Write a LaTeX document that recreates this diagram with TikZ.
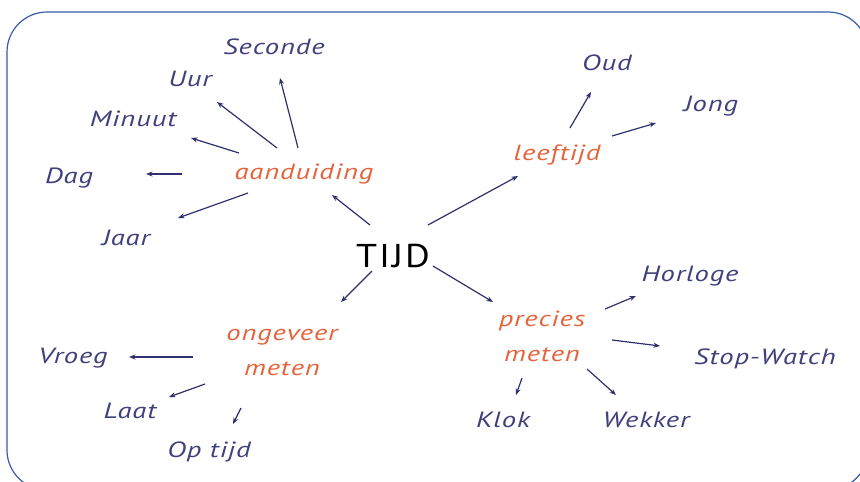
\documentclass[tikz,border=0pt]{standalone}
\usepackage{fontspec}
\usetikzlibrary{arrows.meta}
\newfontfamily\handfont[FakeStretch=1.3,LetterSpace=4]{PT Sans Italic}
\newfontfamily\titlefont[FakeStretch=1.15,LetterSpace=6]{PT Sans}
\definecolor{wordblue}{HTML}{40407C}
\definecolor{wordorange}{HTML}{E4643C}
\definecolor{arrowblue}{HTML}{30306E}
\definecolor{frameblue}{HTML}{3A5AAA}
\begin{document}
\begin{tikzpicture}[x=1pt,y=-1pt,
  leaf/.style={font=\handfont\fontsize{22}{24}\selectfont, text=wordblue, inner sep=0pt},
  topic/.style={font=\handfont\fontsize{22}{35}\selectfont, text=wordorange, inner sep=0pt, align=center},
  root/.style={font=\titlefont\fontsize{33}{34}\selectfont, text=black, inner sep=0pt},
  link/.style={draw=arrowblue, line width=1.2pt, -{Stealth[length=6.5pt,width=5pt]}}]
\useasboundingbox (0,0) rectangle (860,482);
\fill[white] (0,0) rectangle (860,482);
\draw[frameblue, line width=1.2pt, rounded corners=40pt] (7,12) rectangle (868,490);

% nodes
\node[root] (tijd) at (393,256) {TIJD};
\node[topic] (aand) at (304,174) {aanduiding};
\node[topic] (leef) at (557,155) {leeftijd};
\node[topic] (ong) at (282,352) {ongeveer\\meten};
\node[topic] (prec) at (542,336) {precies\\meten};

\node[leaf] (sec) at (274,47) {Seconde};
\node[leaf] (uur) at (190,79) {Uur};
\node[leaf] (min) at (133,119) {Minuut};
\node[leaf] (dag) at (69,178) {Dag};
\node[leaf] (jaar) at (126,238) {Jaar};
\node[leaf] (oud) at (607,63) {Oud};
\node[leaf] (jong) at (711,106) {Jong};
\node[leaf] (vroeg) at (73,358) {Vroeg};
\node[leaf] (laat) at (130,411) {Laat};
\node[leaf] (optijd) at (209,452) {Op tijd};
\node[leaf] (horl) at (690,276) {Horloge};
\node[leaf] (stop) at (765,359) {Stop-Watch};
\node[leaf] (klok) at (503,420) {Klok};
\node[leaf] (wekk) at (646,420) {Wekker};

% arrow end points
\coordinate (s-sec) at (298,148);  \coordinate (e-sec) at (280,78);
\coordinate (s-uur) at (277,148);  \coordinate (e-uur) at (217,102);
\coordinate (s-min) at (239,153);  \coordinate (e-min) at (191,138);
\coordinate (s-dag) at (182,174);  \coordinate (e-dag) at (146,174);
\coordinate (s-jaar) at (248,193); \coordinate (e-jaar) at (178,218);
\coordinate (s-aand) at (370,225); \coordinate (e-aand) at (332,195);
\coordinate (s-leef) at (428,225); \coordinate (e-leef) at (518,176);
\coordinate (s-oud) at (570,128);  \coordinate (e-oud) at (591,92);
\coordinate (s-jong) at (612,136); \coordinate (e-jong) at (656,123);
\coordinate (s-ong) at (372,271);  \coordinate (e-ong) at (341,302);
\coordinate (s-prec) at (433,266); \coordinate (e-prec) at (493,302);
\coordinate (s-vroeg) at (193,357); \coordinate (e-vroeg) at (129,357);
\coordinate (s-laat) at (205,384); \coordinate (e-laat) at (169,397);
\coordinate (s-opt) at (241,408);  \coordinate (e-opt) at (233,424);
\coordinate (s-horl) at (605,309); \coordinate (e-horl) at (636,296);
\coordinate (s-stop) at (612,340); \coordinate (e-stop) at (660,346);
\coordinate (s-wekk) at (587,369); \coordinate (e-wekk) at (616,395);
\coordinate (s-klok) at (522,378); \coordinate (e-klok) at (516,395);

\foreach \n in {sec,uur,min,dag,jaar,aand,leef,oud,jong,ong,prec,vroeg,laat,opt,horl,stop,wekk,klok}
  \draw[link] (s-\n) -- (e-\n);
\end{tikzpicture}
\end{document}
